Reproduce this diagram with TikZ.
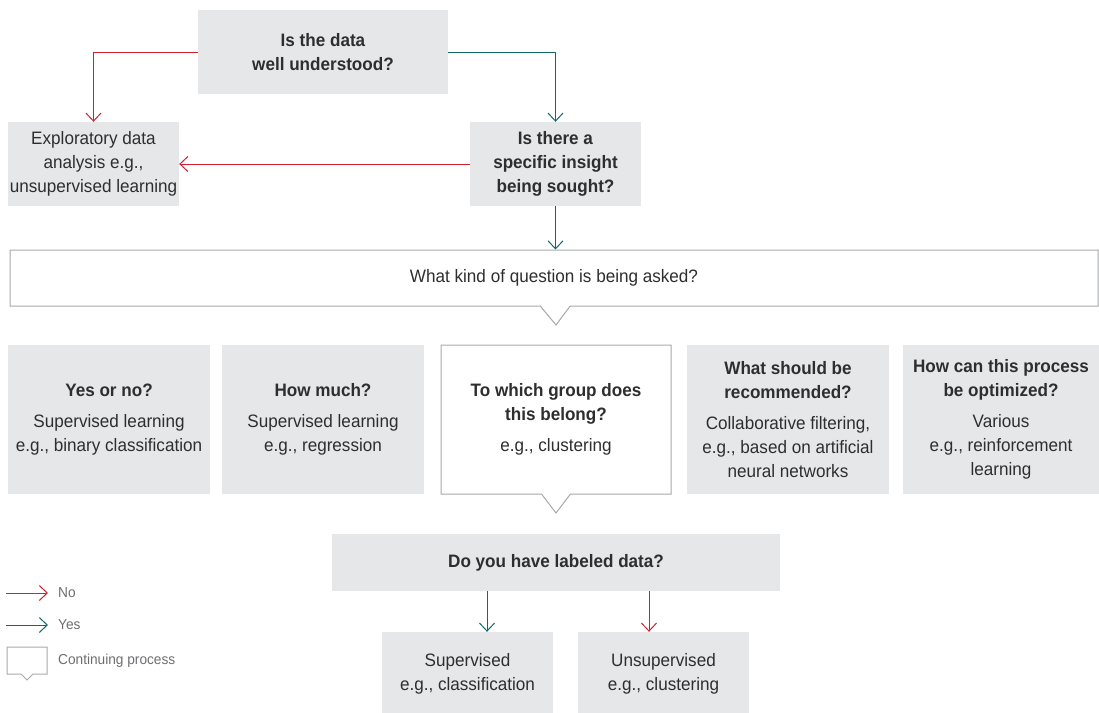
\documentclass[tikz,border=0pt]{standalone}
\usepackage{fontspec}
\setmainfont{Liberation Sans}[FakeStretch=0.95]
\usetikzlibrary{arrows.meta,shapes.callouts}

\definecolor{boxgray}{HTML}{E6E7E8}
\definecolor{nored}{HTML}{D0202E}
\definecolor{yesteal}{HTML}{12696C}
\definecolor{linegray}{HTML}{A7A9AC}
\definecolor{textgray}{HTML}{2E2E2E}
\definecolor{keygray}{HTML}{6D6E71}
\newcommand{\boxfont}{\fontsize{18}{24}\selectfont}
\newcommand{\keyfont}{\fontsize{14.4}{18}\selectfont}

\begin{document}
\begin{tikzpicture}[x=1pt, y=-1pt,
  box/.style = {fill = boxgray, inner sep = 0pt, align = center, text = textgray, font = \boxfont},
  callbox/.style = {rectangle callout, draw = linegray, line width = 1pt, fill = white, inner sep = 0pt, align = center, text = textgray, font = \boxfont},
  no/.style = {draw = nored, line width = 1pt, -{Straight Barb[length=8pt, width=15pt]}},
  yes/.style = {draw = yesteal, line width = 1pt, -{Straight Barb[length=8pt, width=15pt]}},
  keytext/.style = {anchor = west, inner sep = 0pt, text = keygray, font = \keyfont}]
\useasboundingbox (0,0) rectangle (1099,712);

% first questions
\node[box, minimum width = 250pt, minimum height = 84pt] (understood) at (323,52) {\textbf{Is the data}\\\textbf{well understood?}};
\node[box, minimum width = 171pt, minimum height = 84pt] (explore) at (93.5,164) {Exploratory data\\analysis e.g.,\\unsupervised learning};
\node[box, minimum width = 171pt, minimum height = 84pt] (insight) at (555.5,164) {\textbf{Is there a}\\\textbf{specific insight}\\\textbf{being sought?}};

\draw[no]  (understood.west) -| (explore.north);
\draw[yes] (understood.east) -| (insight.north);
\draw[no]  (insight.west) -- (explore.east);

\node[callbox, minimum width = 1088pt, minimum height = 56pt, callout absolute pointer = {(556,325)}, callout pointer width = 30pt] (question) at (554,278) {What kind of question is being asked?};
\draw[yes] (insight.south) -- (insight.south |- question.north);

% kinds of question
\node[box, minimum width = 202pt, minimum height = 149pt] (yesno) at (109,419.5) {\textbf{Yes or no?}\\[7pt]Supervised learning\\e.g., binary classification};
\node[box, minimum width = 202pt, minimum height = 149pt] (howmuch) at (323,419.5) {\textbf{How much?}\\[7pt]Supervised learning\\e.g., regression};
\node[callbox, minimum width = 230pt, minimum height = 149pt, callout absolute pointer = {(556,513)}, callout pointer width = 29pt] (group) at (556,419.5) {\textbf{To which group does}\\\textbf{this belong?}\\[7pt]e.g., clustering};
\node[box, minimum width = 202pt, minimum height = 149pt] (recommend) at (788,419.5) {\textbf{What should be}\\\textbf{recommended?}\\[7pt]Collaborative filtering,\\e.g., based on artificial\\neural networks};
\node[box, minimum width = 196pt, minimum height = 149pt] (optimize) at (1001,419.5) {\textbf{How can this process}\\\textbf{be optimized?}\\[7pt]Various\\e.g., reinforcement\\learning};

% labels
\node[box, minimum width = 448pt, minimum height = 57pt] (labeled) at (556,562.5) {\textbf{Do you have labeled data?}};
\node[box, minimum width = 171pt, minimum height = 84pt] (sup) at (467.5,674) {Supervised\\e.g., classification};
\node[box, minimum width = 171pt, minimum height = 84pt] (unsup) at (663.5,674) {Unsupervised\\e.g., clustering};

\draw[yes] ([xshift=19.5pt]sup.north |- labeled.south) -- ([xshift=19.5pt]sup.north);
\draw[no]  ([xshift=-14.5pt]unsup.north |- labeled.south) -- ([xshift=-14.5pt]unsup.north);

% key
\coordinate (nofrom) at (6,593);
\coordinate (noto) at (48,593);
\coordinate (yesfrom) at (6,625);
\coordinate (yesto) at (48,625);
\draw[no]  (nofrom) -- (noto);
\draw[yes] (yesfrom) -- (yesto);
\node[keytext] (nokey) at (58,593) {No};
\node[keytext] (yeskey) at (58,625) {Yes};
\node[callbox, minimum width = 40pt, minimum height = 27pt, callout absolute pointer = {(27,680)}, callout pointer width = 12pt] (callkey) at (27,660.5) {};
\node[keytext] (continuing) at (58,661) {Continuing process};
\end{tikzpicture}
\end{document}
